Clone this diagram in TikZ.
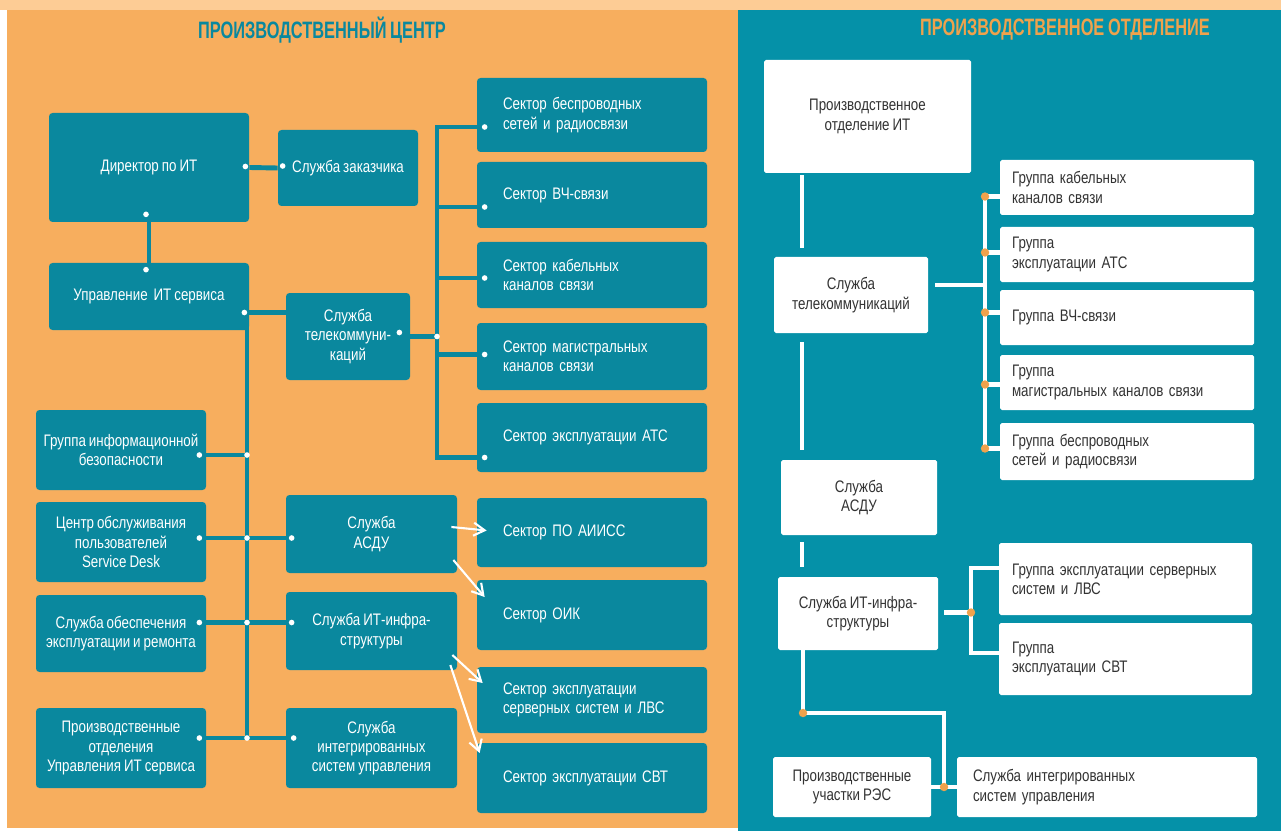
\documentclass[tikz,border=0pt]{standalone}
\usepackage{fontspec}
\setmainfont[FakeStretch=0.8,WordSpace=0.8]{Liberation Sans}
\newfontfamily\headfont[FakeStretch=0.69,WordSpace=0.8]{Liberation Sans}
\usetikzlibrary{arrows.meta,positioning,calc}

\definecolor{paleorange}{HTML}{FDCC95}
\definecolor{panelorange}{HTML}{F7AE5E}
\definecolor{panelteal}{HTML}{0591A8}
\definecolor{boxteal}{HTML}{0A889E}
\definecolor{darktext}{HTML}{333333}
\definecolor{dotorange}{HTML}{EFA24C}

\tikzset{
  sz/.style 2 args={minimum width=#1*0.02cm,minimum height=#2*0.02cm},
  tbox/.style={fill=boxteal,text=white,rounded corners=2pt,align=center,inner sep=0pt,font=\fontsize{9.5}{11}\selectfont},
  sbox/.style={tbox,align=left,inner xsep=0.52cm,text width=3.56cm},
  wbox/.style={fill=white,text=darktext,rounded corners=1pt,align=center,inner sep=0pt,font=\fontsize{9.5}{11}\selectfont},
  gbox/.style={wbox,align=left,inner xsep=0.24cm,text width=4.6cm},
  head/.style={font=\headfont\bfseries\fontsize{13.5}{15}\selectfont},
  lline/.style={draw=boxteal,line width=2.8pt},
  rline/.style={draw=white,line width=2.8pt},
  warr/.style={draw=white,line width=1.2pt,-{Straight Barb[length=2.2mm,width=2.6mm]}},
  ldot/.style={fill=white},
  rdot/.style={fill=dotorange}
}

\begin{document}
\begin{tikzpicture}[x=0.02cm,y=-0.02cm,>=Latex]
\useasboundingbox (0,0) rectangle (1281,831);
% panels
\fill[white] (0,0) rectangle (1281,831);
\fill[panelorange] (7,10) rectangle (738,828);
\fill[panelteal] (738,10) rectangle (1281,831);
\fill[paleorange] (0,0) rectangle (1281,10);
\node[head,text=boxteal] (titleL) at (322,30) {ПРОИЗВОДСТВЕННЫЙ ЦЕНТР};
\node[head,text=dotorange] (titleR) at (1065,30) {ПРОИЗВОДСТВЕННОЕ ОТДЕЛЕНИЕ};

% production centre
\node[tbox,sz={200}{109}] (dir) at (149,167.5) {Директор по ИТ};
\node[tbox,sz={140}{76}] (zak) at (348,168) {Служба заказчика};
\node[tbox,sz={200}{67}] (upr) at (149,296.5) {Управление~ ИТ сервиса};
\node[tbox,sz={124}{87}] (tel) at (348,336.5) {Служба\\телекоммуни-\\каций};
\node[tbox,sz={170}{80}] (gib) at (121,450) {Группа информационной\\безопасности};
\node[tbox,sz={170}{80}] (sd) at (121,542) {Центр обслуживания\\пользователей\\Service Desk};
\node[tbox,sz={170}{77}] (ser) at (121,633.5) {Служба обеспечения\\эксплуатации и ремонта};
\node[tbox,sz={170}{80}] (po) at (121,748) {Производственные\\отделения\\Управления ИТ сервиса};
\node[tbox,sz={171}{78}] (asdu) at (371.5,534) {Служба\\АСДУ};
\node[tbox,sz={171}{78}] (infra) at (371.5,631) {Служба ИТ-инфра-\\структуры};
\node[tbox,sz={171}{80}] (isu) at (371.5,748) {Служба\\интегрированных\\систем управления};
\node[sbox,sz={230}{74}] (s1) at (592,115) {Сектор беспроводных\\сетей и радиосвязи};
\node[sbox,sz={230}{66}] (s2) at (592,195) {Сектор ВЧ-связи};
\node[sbox,sz={230}{66}] (s3) at (592,275) {Сектор кабельных\\каналов связи};
\node[sbox,sz={230}{67}] (s4) at (592,356.5) {Сектор магистральных\\каналов связи};
\node[sbox,sz={230}{69}] (s5) at (592,437.5) {Сектор эксплуатации АТС};
\node[sbox,sz={230}{69}] (s6) at (592,532.5) {Сектор ПО АИИСС};
\node[sbox,sz={230}{70}] (s7) at (592,615) {Сектор ОИК};
\node[sbox,sz={230}{66}] (s8) at (592,700) {Сектор эксплуатации\\серверных систем и ЛВС};
\node[sbox,sz={230}{70}] (s9) at (592,778) {Сектор эксплуатации СВТ};

\coordinate (lb) at (247,0);
\coordinate (sb) at (437,0);
\draw[lline] (dir.east) -- (zak.west);
\draw[lline] (dir.south) -- (upr.north);
\coordinate (jl) at ([shift={(0,16)}]upr.east);
\draw[lline] (jl) -- (jl -| tel.west);
\coordinate (bgib) at ([shift={(0,5)}]gib.east);
\coordinate (bsd) at ([shift={(0,-4)}]sd.east);
\coordinate (bser) at ([shift={(0,-11)}]ser.east);
\coordinate (bpo) at ([shift={(0,-10)}]po.east);
\draw[lline] (jl -| lb) -- (bpo -| lb);
\draw[lline] (bgib) -- (bgib -| lb);
\draw[lline] (bsd) -- (bsd -| asdu.west);
\draw[lline] (bser) -- (bser -| infra.west);
\draw[lline] (bpo) -- (bpo -| isu.west);
\coordinate (jt) at (tel.east -| sb);
\draw[lline] (tel.east) -- (jt);
\foreach \i/\d in {1/12,2/12,3/3,4/-2,5/20}{
  \coordinate (b\i) at ([shift={(0,\d)}]s\i.west);
  \draw[lline] (jt) |- (b\i);
}
\draw[warr] ([shift={(-6,-7)}]asdu.east) -- ([shift={(10,-2)}]s6.west);
\draw[warr] ([shift={(-4,26)}]asdu.east) -- ([shift={(8,-18)}]s7.west);
\draw[warr] ([shift={(-5,24)}]infra.east) -- ([shift={(6,-17)}]s8.west);
\draw[warr] ([shift={(-7,34)}]infra.east) -- ([shift={(3,-25)}]s9.west);
% connection points
\fill[ldot] (dir.east) ++(-4,-1) circle (1.6pt);
\fill[ldot] (zak.west) ++(5,-2) circle (1.6pt);
\fill[ldot] (dir.south) ++(-3,-8) circle (1.6pt);
\fill[ldot] (upr.north) ++(-3,7) circle (1.6pt);
\fill[ldot] (jl) ++(-5,0) circle (1.6pt);
\fill[ldot] (tel.east) ++(-11,-4) circle (1.6pt);
\fill[ldot] (jt) circle (1.6pt);
\foreach \i in {1,...,5} \fill[ldot] (b\i) ++(8,0) circle (1.6pt);
\foreach \b in {bgib,bsd,bser,bpo}{
  \fill[ldot] (\b) ++(-7,0) circle (1.6pt);
  \fill[ldot] (\b -| lb) circle (1.6pt);
}
\fill[ldot] (bsd -| asdu.west) ++(6,0) circle (1.6pt);
\fill[ldot] (bser -| infra.west) ++(6,0) circle (1.6pt);
\fill[ldot] (bpo -| isu.west) ++(8,0) circle (1.6pt);

% production department
\node[wbox,sz={207}{113}] (poit) at (867.5,116.5) {Производственное\\отделение ИТ};
\node[wbox,sz={154}{76}] (tel2) at (851,295) {Служба\\телекоммуникаций};
\node[gbox,sz={254}{55}] (g1) at (1127,187.5) {Группа кабельных\\каналов связи};
\node[gbox,sz={254}{55}] (g2) at (1127,254.5) {Группа\\эксплуатации АТС};
\node[gbox,sz={254}{55}] (g3) at (1127,317.5) {Группа ВЧ-связи};
\node[gbox,sz={254}{55}] (g4) at (1127,382.5) {Группа\\магистральных каналов связи};
\node[gbox,sz={254}{57}] (g5) at (1127,451.5) {Группа беспроводных\\сетей и радиосвязи};
\node[wbox,sz={156}{75}] (asdu2) at (859,497.5) {Служба\\АСДУ};
\node[wbox,sz={160}{73}] (infra2) at (858,613.5) {Служба ИТ-инфра-\\структуры};
\node[gbox,inner xsep=0.26cm,text width=4.54cm,sz={253}{72}] (gs) at (1125.5,579) {Группа эксплуатации серверных\\систем и ЛВС};
\node[gbox,inner xsep=0.26cm,text width=4.54cm,sz={253}{72}] (gsvt) at (1125.5,659) {Группа\\эксплуатации СВТ};
\node[wbox,sz={158}{60}] (rez) at (852,787) {Производственные\\участки РЭС};
\node[gbox,inner xsep=0.32cm,text width=5.36cm,sz={300}{60}] (isu2) at (1107,787) {Служба интегрированных\\систем управления};

\coordinate (lx) at (802,0);
\draw[rline,shorten <=0.04cm,shorten >=0.18cm] (poit.south -| lx) -- (tel2.north -| lx);
\draw[rline,shorten <=0.18cm,shorten >=0.2cm] (tel2.south -| lx) -- (asdu2.north -| lx);
\draw[rline,shorten <=0.14cm,shorten >=0.2cm] (asdu2.south -| lx) -- (infra2.north -| lx);
\coordinate (rb) at (985,0);
\coordinate (t2) at ([shift={(7,-10)}]tel2.east);
\draw[rline] (t2) -- (t2 -| rb);
\foreach \i/\d in {1/9,2/-2,3/-5,4/2,5/-3}{
  \coordinate (c\i) at ([shift={(0,\d)}]g\i.west);
  \draw[rline] (t2 -| rb) |- (c\i);
}
\foreach \i in {1,...,5} \fill[rdot] (c\i -| rb) circle (2.4pt);
\coordinate (rb2) at (971,0);
\coordinate (i2) at ([shift={(6,-1)}]infra2.east);
\coordinate (cgs) at ([shift={(0,-11)}]gs.west);
\coordinate (csvt) at ([shift={(0,-6)}]gsvt.west);
\draw[rline] (i2) -- (i2 -| rb2);
\draw[rline] (cgs) -| (i2 -| rb2) |- (csvt);
\fill[rdot] (i2 -| rb2) circle (2.4pt);
\coordinate (jr) at (803,713);
\coordinate (jb) at ($(rez.east)!.5!(isu2.west)$);
\draw[rline] (infra2.south -| jr) -- (jr) -| (jb);
\draw[rline] (rez.east) -- (isu2.west);
\fill[rdot] (jr) circle (2.4pt);
\fill[rdot] (jb) circle (2.4pt);
\end{tikzpicture}
\end{document}
